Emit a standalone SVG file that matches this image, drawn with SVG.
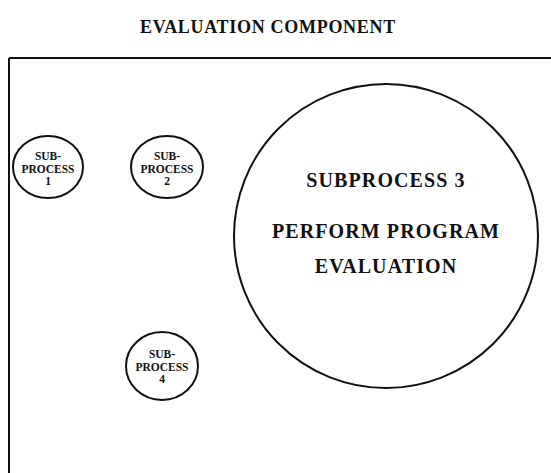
<svg xmlns="http://www.w3.org/2000/svg" width="551" height="473" viewBox="0 0 551 473">
<style>
.t{font-family:"Liberation Serif","Times New Roman",serif;font-weight:bold;fill:#111;text-anchor:middle}
.s{font-size:11.5px}
.b{font-size:20px;letter-spacing:1.1px}
.shape{fill:none;stroke:#111;stroke-width:2}
</style>
<rect width="551" height="473" fill="#fff"/>
<text class="t" x="268" y="33" font-size="18" letter-spacing="0.7">EVALUATION COMPONENT</text>
<g id="frame">
<path class="shape" d="M9,58 H551 M9,58 V473"/>
</g>
<g id="sub1">
<ellipse class="shape" cx="48" cy="167" rx="35" ry="31"/>
<text class="t s" x="48" y="160">SUB-</text>
<text class="t s" x="48" y="173">PROCESS</text>
<text class="t s" x="48" y="185">1</text>
</g>
<g id="sub2">
<ellipse class="shape" cx="167" cy="167" rx="36" ry="31"/>
<text class="t s" x="167" y="160">SUB-</text>
<text class="t s" x="167" y="173">PROCESS</text>
<text class="t s" x="167" y="185">2</text>
</g>
<g id="sub3">
<circle class="shape" cx="386" cy="236" r="152"/>
<text class="t b" x="386" y="187">SUBPROCESS 3</text>
<text class="t b" x="386" y="238">PERFORM PROGRAM</text>
<text class="t b" x="386" y="273">EVALUATION</text>
</g>
<g id="sub4">
<ellipse class="shape" cx="162" cy="366" rx="36" ry="34"/>
<text class="t s" x="162" y="358">SUB-</text>
<text class="t s" x="162" y="371">PROCESS</text>
<text class="t s" x="162" y="383">4</text>
</g>
<g id="connectors"/>
</svg>
